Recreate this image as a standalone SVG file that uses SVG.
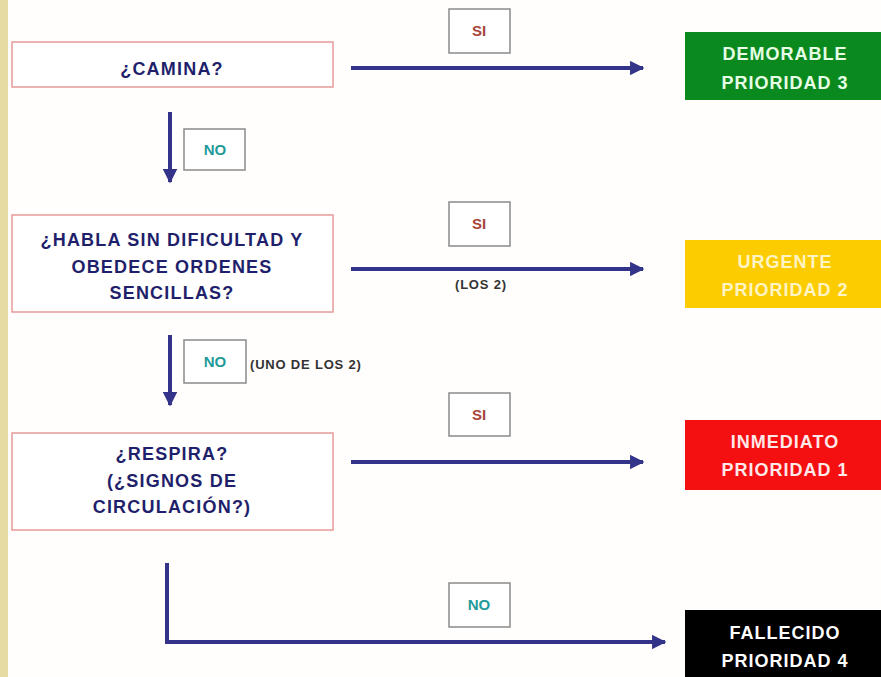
<svg xmlns="http://www.w3.org/2000/svg" width="881" height="677" viewBox="0 0 881 677">
<defs>
<style>
.q{fill:#fff;stroke:#e79a9a;stroke-width:1.5}
.qt{font-family:"Liberation Sans",Arial,sans-serif;font-weight:bold;font-size:18px;letter-spacing:1.2px;fill:#1f1f6b;text-anchor:middle}
.lb{fill:#fff;stroke:#8a8a8a;stroke-width:1.5}
.si{font-family:"Liberation Sans",Arial,sans-serif;font-weight:bold;font-size:15px;fill:#a8453a;text-anchor:middle}
.no{font-family:"Liberation Sans",Arial,sans-serif;font-weight:bold;font-size:15px;fill:#1f9a9a;text-anchor:middle}
.nt{font-family:"Liberation Sans",Arial,sans-serif;font-weight:bold;font-size:13px;letter-spacing:0.8px;fill:#333;}
.rt{font-family:"Liberation Sans",Arial,sans-serif;font-weight:bold;font-size:18px;letter-spacing:1px;text-anchor:middle}
.c{stroke:#33338a;stroke-width:4;fill:none}
</style>
<marker id="ah" viewBox="0 0 10 10" refX="9" refY="5" markerWidth="5.5" markerHeight="3.6" markerUnits="strokeWidth" orient="auto">
<path d="M0,0 L10,5 L0,10 z" fill="#33338a"/>
</marker>
</defs>
<rect width="881" height="677" fill="#fffefd"/>
<rect x="0" y="0" width="8" height="677" fill="#e6dba2"/>

<g id="connectors">
<line class="c" x1="351" y1="68" x2="643" y2="68" marker-end="url(#ah)"/>
<line class="c" x1="351" y1="269" x2="643" y2="269" marker-end="url(#ah)"/>
<line class="c" x1="351" y1="462" x2="643" y2="462" marker-end="url(#ah)"/>
<line class="c" x1="170" y1="112" x2="170" y2="182" marker-end="url(#ah)"/>
<line class="c" x1="170" y1="335" x2="170" y2="405" marker-end="url(#ah)"/>
<polyline class="c" points="167,563 167,642 665,642" marker-end="url(#ah)"/>
</g>

<g id="q1">
<rect class="q" x="12" y="42" width="321" height="45"/>
<text class="qt" x="172" y="75">¿CAMINA?</text>
</g>
<g id="q2">
<rect class="q" x="12" y="215" width="321" height="97"/>
<text class="qt" x="172" y="246">¿HABLA SIN DIFICULTAD Y</text>
<text class="qt" x="172" y="273">OBEDECE ORDENES</text>
<text class="qt" x="172" y="299">SENCILLAS?</text>
</g>
<g id="q3">
<rect class="q" x="12" y="433" width="321" height="97"/>
<text class="qt" x="172" y="460">¿RESPIRA?</text>
<text class="qt" x="172" y="487">(¿SIGNOS DE</text>
<text class="qt" x="172" y="513">CIRCULACIÓN?)</text>
</g>

<g id="lbl-no1">
<rect class="lb" x="184" y="129" width="61" height="41"/>
<text class="no" x="215" y="155">NO</text>
</g>
<g id="lbl-no2">
<rect class="lb" x="184" y="340" width="62" height="43"/>
<text class="no" x="215" y="367">NO</text>
<text class="nt" x="250" y="369">(UNO DE LOS 2)</text>
</g>
<g id="lbl-si1">
<rect class="lb" x="449" y="9" width="61" height="44"/>
<text class="si" x="479" y="36">SI</text>
</g>
<g id="lbl-si2">
<rect class="lb" x="449" y="202" width="61" height="44"/>
<text class="si" x="479" y="229">SI</text>
<text class="nt" x="455" y="289">(LOS 2)</text>
</g>
<g id="lbl-si3">
<rect class="lb" x="449" y="393" width="61" height="43"/>
<text class="si" x="479" y="420">SI</text>
</g>
<g id="lbl-no3">
<rect class="lb" x="449" y="583" width="61" height="44"/>
<text class="no" x="479" y="610">NO</text>
</g>

<g id="r-demorable">
<rect x="685" y="32" width="196" height="68" fill="#0a8a1e"/>
<text class="rt" x="785" y="60" fill="#e6ffe6">DEMORABLE</text>
<text class="rt" x="785" y="89" fill="#e6ffe6">PRIORIDAD 3</text>
</g>
<g id="r-urgente">
<rect x="685" y="240" width="196" height="68" fill="#fccc00"/>
<text class="rt" x="785" y="268" fill="#fff4c4">URGENTE</text>
<text class="rt" x="785" y="296" fill="#fff4c4">PRIORIDAD 2</text>
</g>
<g id="r-inmediato">
<rect x="685" y="420" width="196" height="70" fill="#f41010"/>
<text class="rt" x="785" y="448" fill="#ffe8e8">INMEDIATO</text>
<text class="rt" x="785" y="476" fill="#ffe8e8">PRIORIDAD 1</text>
</g>
<g id="r-fallecido">
<rect x="685" y="610" width="196" height="67" fill="#000"/>
<text class="rt" x="785" y="639" fill="#fff">FALLECIDO</text>
<text class="rt" x="785" y="667" fill="#fff">PRIORIDAD 4</text>
</g>
</svg>
